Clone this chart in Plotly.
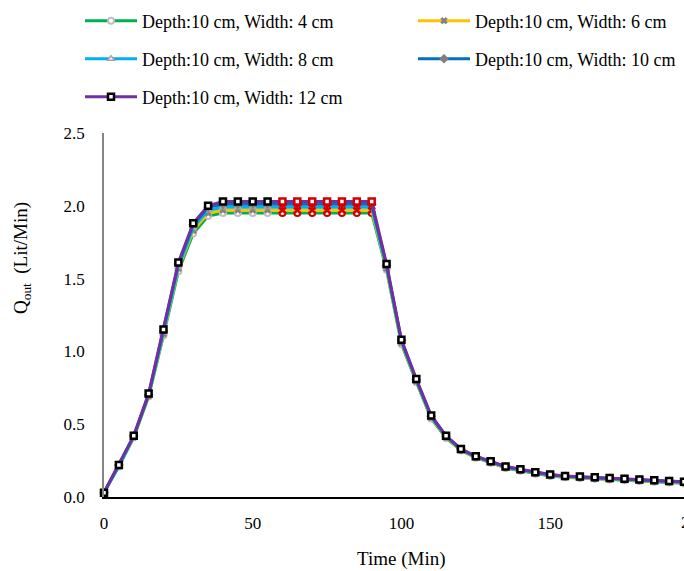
"""
Outflow hydrograph — Q_out vs time for a 10 cm deep channel, widths 4–12 cm.
Excel-style line chart rebuilt in Plotly.
"""

import plotly.graph_objects as go

# ── Data ───────────────────────────────────────────────────────────────────
TIME = [0, 5, 10, 15, 20, 25, 30, 35, 40, 45, 50, 55, 60, 65, 70, 75, 80, 85,
        90, 95, 100, 105, 110, 115, 120, 125, 130, 135, 140, 145, 150, 155,
        160, 165, 170, 175, 180, 185, 190, 195]

Q_W4 = [0.03, 0.21, 0.41, 0.69, 1.11, 1.55, 1.81, 1.93, 1.95, 1.95, 1.95,
        1.95, 1.95, 1.95, 1.95, 1.95, 1.95, 1.95, 1.95, 1.56, 1.05, 0.79,
        0.54, 0.405, 0.32, 0.27, 0.235, 0.20, 0.18, 0.16, 0.145, 0.135, 0.13,
        0.125, 0.12, 0.115, 0.11, 0.105, 0.10, 0.095]
Q_W6 = [0.03, 0.215, 0.41, 0.695, 1.12, 1.57, 1.83, 1.95, 1.97, 1.97, 1.97,
        1.97, 1.97, 1.97, 1.97, 1.97, 1.97, 1.97, 1.97, 1.57, 1.06, 0.795,
        0.545, 0.41, 0.322, 0.272, 0.238, 0.203, 0.183, 0.163, 0.148, 0.138,
        0.133, 0.128, 0.123, 0.118, 0.113, 0.108, 0.103, 0.098]
Q_W8 = [0.03, 0.215, 0.415, 0.70, 1.13, 1.58, 1.85, 1.97, 1.99, 1.99, 1.99,
        1.99, 1.99, 1.99, 1.99, 1.99, 1.99, 1.99, 1.99, 1.58, 1.07, 0.80,
        0.55, 0.415, 0.325, 0.275, 0.24, 0.205, 0.185, 0.165, 0.15, 0.14,
        0.135, 0.13, 0.125, 0.12, 0.115, 0.11, 0.105, 0.10]
Q_W10 = [0.03, 0.22, 0.42, 0.70, 1.14, 1.60, 1.87, 1.99, 2.01, 2.01, 2.01,
         2.01, 2.01, 2.01, 2.01, 2.01, 2.01, 2.01, 2.01, 1.59, 1.075, 0.805,
         0.555, 0.418, 0.328, 0.278, 0.243, 0.208, 0.188, 0.168, 0.153, 0.143,
         0.138, 0.133, 0.128, 0.123, 0.118, 0.113, 0.108, 0.103]
Q_W12 = [0.03, 0.22, 0.42, 0.71, 1.15, 1.61, 1.88, 2.00, 2.03, 2.03, 2.03,
         2.03, 2.03, 2.03, 2.03, 2.03, 2.03, 2.03, 2.03, 1.60, 1.08, 0.81,
         0.56, 0.42, 0.33, 0.28, 0.245, 0.21, 0.19, 0.17, 0.155, 0.145, 0.14,
         0.135, 0.13, 0.125, 0.12, 0.115, 0.11, 0.105]

NAMES = ["Depth:10 cm, Width: 4 cm", "Depth:10 cm, Width: 6 cm",
         "Depth:10 cm, Width: 8 cm", "Depth:10 cm, Width: 10 cm",
         "Depth:10 cm, Width: 12 cm"]

X_TICKS = [0, 50, 100, 150]
Y_TICKS = [0.0, 0.5, 1.0, 1.5, 2.0, 2.5]

# ── Style ──────────────────────────────────────────────────────────────────
FONT = "Times New Roman, Liberation Serif, serif"
FS = 17           # tick labels
FS_LEG = 18       # legend
FS_TITLE = 19     # axis titles
RED = "#D00000"
HILITE = (60, 90)     # markers in this time window are drawn red

# line colour, marker symbol, size, fill, outline, outline width, filled?
STYLES = [
    ("#00B050", "circle",      6, "white",   "#BFBFBF", 2.0, False),
    ("#FFC000", "x",           6, "#808080", "#808080", 0.5, True),
    ("#00B0F0", "triangle-up", 6, "white",   "#A6A6A6", 1.5, False),
    ("#0070C0", "diamond",     7, "#7F7F7F", "#7F7F7F", 0.5, True),
    ("#7030A0", "square",      6, "white",   "#000000", 2.5, False),
]

# legend slots (container px): left edge, row centre
LEGEND_POS = [(80, 21), (413, 21), (80, 59), (413, 59), (80, 97)]

W, H = 684, 571
M_L, M_R, M_T, M_B = 104, 0, 133, 74
PLOT_W, PLOT_H = W - M_L - M_R, H - M_T - M_B


def make_trace(y, name, style, legend_id):
    line_c, symbol, size, fill, edge, edge_w, filled = style
    hot = [HILITE[0] <= t <= HILITE[1] for t in TIME]
    fills = [RED if (h and filled) else fill for h in hot]
    edges = [RED if h else edge for h in hot]
    return go.Scatter(
        x=TIME, y=y, name=name, mode="lines+markers",
        line=dict(color=line_c, width=3),
        marker=dict(symbol=symbol, size=size, color=fills,
                    line=dict(color=edges, width=edge_w)),
        legend=legend_id, cliponaxis=False,
    )


fig = go.Figure()
series = [Q_W4, Q_W6, Q_W8, Q_W10, Q_W12]
legend_ids = ["legend", "legend2", "legend3", "legend4", "legend5"]
for y, name, style, lid in zip(series, NAMES, STYLES, legend_ids):
    fig.add_trace(make_trace(y, name, style, lid))

# ── Legends: one per slot so the 2-column grid lines up ───────────────────
legends = {}
for lid, (lx, ly) in zip(legend_ids, LEGEND_POS):
    legends[lid] = dict(
        x=lx / W, y=1 - ly / H, xref="container", yref="container",
        xanchor="left", yanchor="middle", orientation="h",
        itemwidth=52, bgcolor="rgba(0,0,0,0)", borderwidth=0,
        font=dict(family=FONT, size=FS_LEG, color="black"),
    )

axis_font = dict(family=FONT, size=FS, color="black")
title_font = dict(family=FONT, size=FS_TITLE, color="black")

fig.update_layout(
    width=W, height=H,
    margin=dict(l=M_L, r=M_R, t=M_T, b=M_B, pad=0, autoexpand=False),
    paper_bgcolor="white", plot_bgcolor="white",
    showlegend=True,
    font=axis_font,
    xaxis=dict(range=[0, 195], tickvals=X_TICKS, showgrid=False,
               zeroline=False, showline=True, linecolor="black",
               linewidth=1.5, ticks="", ticklabelstandoff=10,
               tickfont=axis_font, automargin=False),
    yaxis=dict(range=[0, 2.5], tickvals=Y_TICKS, tickformat=".1f",
               showgrid=False, zeroline=False, showline=True,
               linecolor="#868686", linewidth=1.5, ticks="",
               ticklabelstandoff=14, tickfont=axis_font, automargin=False),
    **legends,
)

# axis titles + the clipped "200" tick that Excel drew past the plot edge
fig.add_annotation(text="Time (Min)", x=100, xref="x",
                   y=-(559 - (H - M_B)) / PLOT_H, yref="paper",
                   showarrow=False, xanchor="center", yanchor="middle",
                   font=title_font)
fig.add_annotation(text="Q<sub>out</sub>\u00a0 (Lit/Min)", xref="paper",
                   x=(22 - M_L) / PLOT_W, yref="paper",
                   y=((H - M_B) - 258) / PLOT_H, textangle=-90,
                   showarrow=False, xanchor="center", yanchor="middle",
                   font=title_font)
fig.add_annotation(text="200", xref="paper", x=(679 - M_L) / PLOT_W,
                   yref="paper", y=-(522 - (H - M_B)) / PLOT_H,
                   showarrow=False, xanchor="left", yanchor="middle",
                   font=axis_font)

# page body has a default 8px margin; drop it so the chart sits at (0, 0)
fig.write_html("out.html", config={"displayModeBar": False},
               post_script="document.body.style.margin='0';")
